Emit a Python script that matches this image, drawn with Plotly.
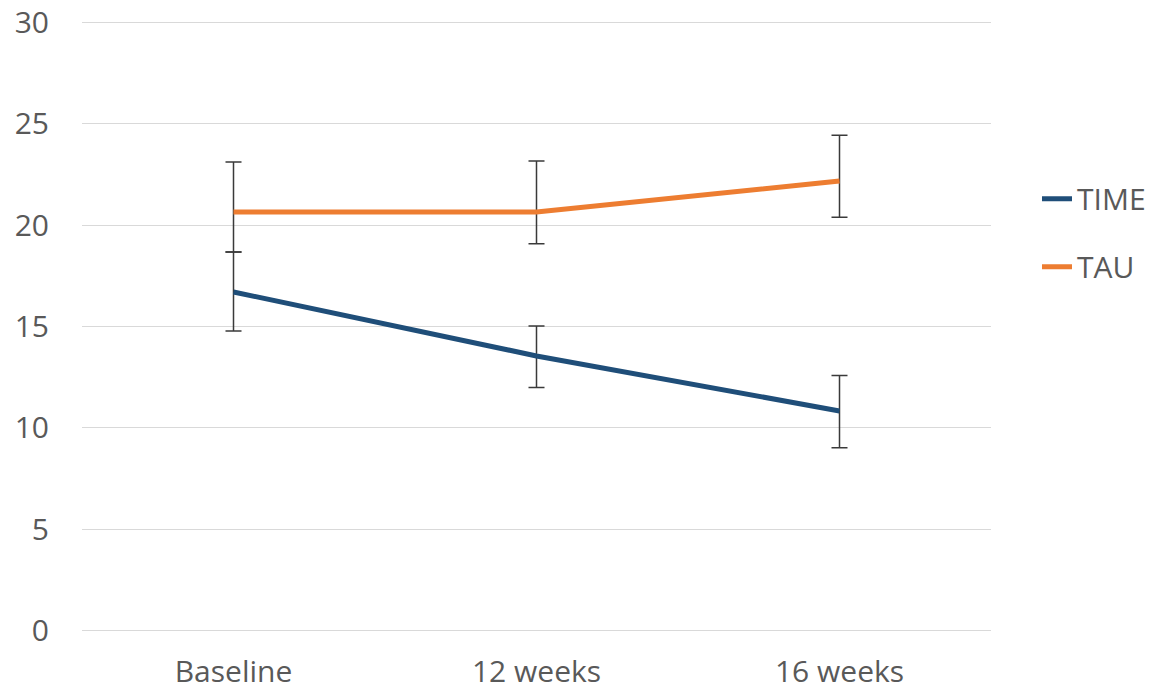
import plotly.graph_objects as go

categories = ["Baseline", "12 weeks", "16 weeks"]

time_mean = [16.70, 13.55, 10.84]
time_err_plus = [1.97, 1.47, 1.74]
time_err_minus = [1.92, 1.56, 1.81]

tau_mean = [20.64, 20.64, 22.17]
tau_err_plus = [2.46, 2.51, 2.25]
tau_err_minus = [1.97, 1.56, 1.79]

y_ticks = [0, 5, 10, 15, 20, 25, 30]

font_family = "Open Sans, Liberation Sans, sans-serif"
grey = "#595959"

fig = go.Figure()

fig.add_trace(go.Scatter(
    x=categories, y=time_mean, name="TIME", mode="lines",
    legendgroup="time",
    line=dict(color="#1F4E79", width=5),
    error_y=dict(type="data", symmetric=False, array=time_err_plus,
                 arrayminus=time_err_minus, color="#3a3a3a",
                 thickness=1.5, width=8),
))
fig.add_trace(go.Scatter(
    x=categories, y=tau_mean, name="TAU", mode="lines",
    legendgroup="tau",
    line=dict(color="#ED7D31", width=5),
    error_y=dict(type="data", symmetric=False, array=tau_err_plus,
                 arrayminus=tau_err_minus, color="#3a3a3a",
                 thickness=1.5, width=8),
))

fig.update_layout(
    width=1170, height=694,
    margin=dict(l=82, r=179, t=20, b=61, autoexpand=False),
    paper_bgcolor="white", plot_bgcolor="white",
    font=dict(family=font_family, size=30, color=grey),
    showlegend=True,
    legend=dict(x=1.0506, y=0.653, xanchor="left", yanchor="middle",
                font=dict(size=30, color=grey), tracegroupgap=26,
                bgcolor="rgba(0,0,0,0)"),
)
fig.update_xaxes(
    type="category", range=[-0.5, 2.5], showgrid=False, showline=False,
    zeroline=False, ticks="", tickfont=dict(size=30, color=grey),
    automargin=False, ticklabelstandoff=18, ticklabeloverflow="allow",
)
fig.update_yaxes(
    range=[-0.1, 30.1], tickvals=y_ticks, showgrid=True, gridcolor="#d9d9d9",
    gridwidth=1.2, zeroline=False, showline=False, ticks="",
    tickfont=dict(size=30, color=grey), ticklabelstandoff=32,
    automargin=False, ticklabeloverflow="allow",
)

fig.write_html("out.html", config={"displayModeBar": False},
               post_script="document.body.style.margin='0';")
